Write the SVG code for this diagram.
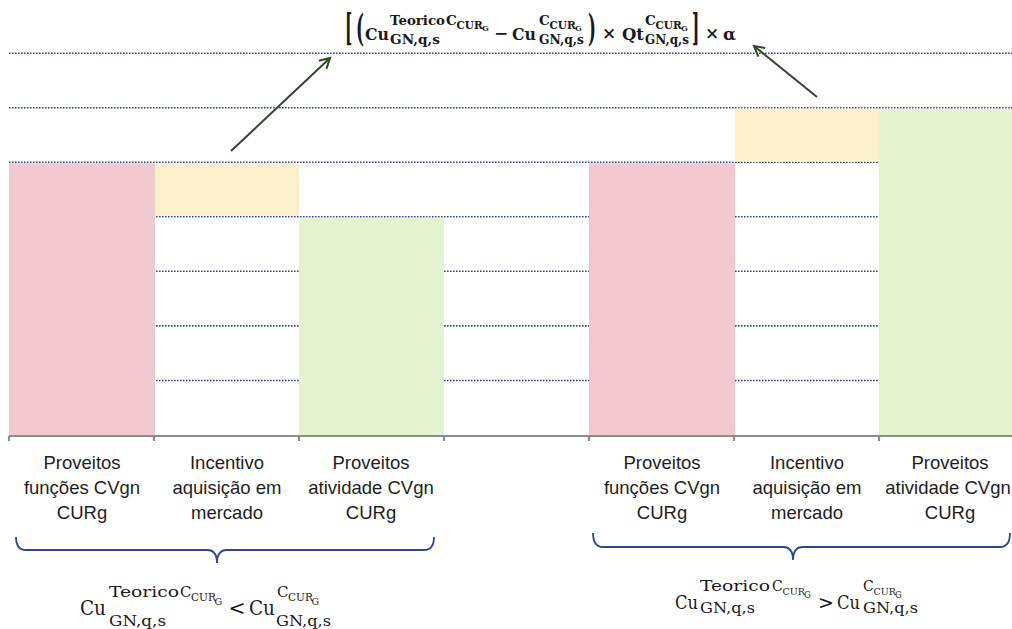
<svg xmlns="http://www.w3.org/2000/svg" width="1012" height="629" viewBox="0 0 1012 629">
<defs>
<style>
.grid{stroke:#2f4694;stroke-width:1.6;stroke-dasharray:1.6 1.4;fill:none}
.pink{fill:#f1c9d1}
.yel{fill:#fcf0cc}
.grn{fill:#e4f3d0}
.axis{stroke:#8c8c8c;stroke-width:2.2;fill:none}
.lbl{font-family:"Liberation Sans","Noto Sans",sans-serif;font-size:18.5px;fill:#1e1e1e;text-anchor:middle}
.fb{font-family:"DejaVu Serif","Liberation Serif",serif;font-weight:bold;fill:#1a1a1a}
.fr{font-family:"DejaVu Serif","Liberation Serif",serif;fill:#1a1a1a}
.arr{stroke:#2b4a27;stroke-width:2;fill:none}
.brace{stroke:#2f4594;stroke-width:1.8;fill:none}
</style>
<marker id="ah" markerWidth="14" markerHeight="14" refX="11" refY="7" orient="auto" markerUnits="userSpaceOnUse">
<polyline points="1,1.5 11,7 1,12.5" fill="none" stroke="#2b4a27" stroke-width="2"/>
</marker>
</defs>
<rect width="1012" height="629" fill="#ffffff"/>

<g id="gridlines">
<line class="grid" x1="9" y1="53.3" x2="1012" y2="53.3"/>
<line class="grid" x1="9" y1="107.8" x2="1012" y2="107.8"/>
<line class="grid" x1="9" y1="162.3" x2="1012" y2="162.3"/>
<line class="grid" x1="9" y1="216.8" x2="1012" y2="216.8"/>
<line class="grid" x1="9" y1="271.3" x2="1012" y2="271.3"/>
<line class="grid" x1="9" y1="325.9" x2="1012" y2="325.9"/>
<line class="grid" x1="9" y1="380.5" x2="1012" y2="380.5"/>
</g>

<g id="bar-left-proveitos-funcoes"><rect class="pink" x="9" y="163.3" width="146" height="272"/></g>
<g id="bar-left-incentivo"><rect class="yel" x="155" y="163.3" width="144" height="52.7"/></g>
<g id="bar-left-proveitos-atividade"><rect class="grn" x="299" y="217.8" width="145" height="217.5"/></g>
<g id="bar-right-proveitos-funcoes"><rect class="pink" x="589" y="163.3" width="146" height="272"/></g>
<g id="bar-right-incentivo"><rect class="yel" x="735" y="108.8" width="144" height="53"/></g>
<g id="bar-right-proveitos-atividade"><rect class="grn" x="879" y="108.8" width="133" height="326.5"/></g>

<g id="axis">
<line class="axis" x1="9" y1="436" x2="1012" y2="436"/>
<path class="axis" d="M9,436V441M154,436V441M299,436V441M444,436V441M589,436V441M734,436V441M879,436V441"/>
</g>

<g id="labels-left">
<text class="lbl" x="82" y="469">Proveitos</text>
<text class="lbl" x="82" y="494">funções CVgn</text>
<text class="lbl" x="82" y="519">CURg</text>
<text class="lbl" x="227" y="469">Incentivo</text>
<text class="lbl" x="227" y="494">aquisição em</text>
<text class="lbl" x="227" y="519">mercado</text>
<text class="lbl" x="371" y="469">Proveitos</text>
<text class="lbl" x="371" y="494">atividade CVgn</text>
<text class="lbl" x="371" y="519">CURg</text>
</g>
<g id="labels-right">
<text class="lbl" x="662" y="469">Proveitos</text>
<text class="lbl" x="662" y="494">funções CVgn</text>
<text class="lbl" x="662" y="519">CURg</text>
<text class="lbl" x="807" y="469">Incentivo</text>
<text class="lbl" x="807" y="494">aquisição em</text>
<text class="lbl" x="807" y="519">mercado</text>
<text class="lbl" x="950" y="469">Proveitos</text>
<text class="lbl" x="948" y="494">atividade CVgn</text>
<text class="lbl" x="950" y="519">CURg</text>
</g>

<g id="connectors">
<line class="arr" x1="231" y1="151" x2="330" y2="58" marker-end="url(#ah)"/>
<line class="arr" x1="817" y1="97" x2="754" y2="46" marker-end="url(#ah)"/>
<path class="brace" d="M16,537 Q16,550 26,550 L207,550 Q217,550 217,563 Q217,550 227,550 L424,550 Q434,550 434,537"/>
<path class="brace" d="M593,533 Q593,547 603,547 L783,547 Q793,547 793,560 Q793,547 803,547 L1000,547 Q1010,547 1010,533"/>
</g>

<g id="formula-top">
<text class="fb" font-size="28" transform="translate(345,41) scale(0.55,1.35)">[</text>
<text class="fb" font-size="28" transform="translate(356,41) scale(0.6,1.35)">(</text>
<text class="fb" x="365" y="40" font-size="17" textLength="24" lengthAdjust="spacingAndGlyphs">Cu</text>
<text class="fb" font-size="13.5"><tspan x="390" y="25" textLength="55" lengthAdjust="spacingAndGlyphs">Teorico</tspan><tspan x="446" y="25">C</tspan><tspan x="456.5" y="28.5" font-size="10.5">CUR</tspan><tspan x="482" y="31" font-size="8">G</tspan></text>
<text class="fb" x="390" y="44" font-size="13.5" textLength="50" lengthAdjust="spacingAndGlyphs">GN,q,s</text>
<text class="fb" x="501" y="39" font-size="17" text-anchor="middle">−</text>
<text class="fb" x="512" y="40" font-size="17" textLength="24" lengthAdjust="spacingAndGlyphs">Cu</text>
<text class="fb" font-size="13.5"><tspan x="539" y="25">C</tspan><tspan x="549.5" y="28.5" font-size="10.5">CUR</tspan><tspan x="575" y="31" font-size="8">G</tspan></text>
<text class="fb" x="539" y="44" font-size="13.5" textLength="45" lengthAdjust="spacingAndGlyphs">GN,q,s</text>
<text class="fb" font-size="28" transform="translate(588,41) scale(0.6,1.35)">)</text>
<text class="fb" x="609" y="39" font-size="17" text-anchor="middle">×</text>
<text class="fb" x="622" y="40" font-size="17" textLength="22" lengthAdjust="spacingAndGlyphs">Qt</text>
<text class="fb" font-size="13.5"><tspan x="645" y="25">C</tspan><tspan x="655.5" y="28.5" font-size="10.5">CUR</tspan><tspan x="681" y="31" font-size="8">G</tspan></text>
<text class="fb" x="645" y="44" font-size="13.5" textLength="44" lengthAdjust="spacingAndGlyphs">GN,q,s</text>
<text class="fb" font-size="28" transform="translate(692,41) scale(0.55,1.35)">]</text>
<text class="fb" x="712" y="39" font-size="17" text-anchor="middle">×</text>
<text class="fb" x="723" y="40" font-size="17">α</text>
</g>

<g id="formula-left">
<text class="fr" x="80" y="615" font-size="20.5" textLength="26" lengthAdjust="spacingAndGlyphs">Cu</text>
<text class="fr" font-size="15"><tspan x="109" y="597" textLength="70" lengthAdjust="spacingAndGlyphs">Teorico</tspan><tspan x="180" y="597">C</tspan><tspan x="191" y="601" font-size="10.5">CUR</tspan><tspan x="214.5" y="604.5" font-size="9.5">G</tspan></text>
<text class="fr" x="109" y="626" font-size="15" textLength="57" lengthAdjust="spacingAndGlyphs">GN,q,s</text>
<text class="fr" x="237" y="615" font-size="20.5" text-anchor="middle">&lt;</text>
<text class="fr" x="249" y="615" font-size="20.5" textLength="26" lengthAdjust="spacingAndGlyphs">Cu</text>
<text class="fr" font-size="15"><tspan x="277" y="597">C</tspan><tspan x="288" y="601" font-size="10.5">CUR</tspan><tspan x="311.5" y="604.5" font-size="9.5">G</tspan></text>
<text class="fr" x="276" y="626" font-size="15" textLength="55" lengthAdjust="spacingAndGlyphs">GN,q,s</text>
</g>

<g id="formula-right">
<text class="fr" x="675" y="609" font-size="19" textLength="23" lengthAdjust="spacingAndGlyphs">Cu</text>
<text class="fr" font-size="14"><tspan x="700" y="591" textLength="70" lengthAdjust="spacingAndGlyphs">Teorico</tspan><tspan x="772" y="591">C</tspan><tspan x="782.5" y="594.5" font-size="9.5">CUR</tspan><tspan x="804" y="597.5" font-size="8.5">G</tspan></text>
<text class="fr" x="700" y="613" font-size="14" textLength="55" lengthAdjust="spacingAndGlyphs">GN,q,s</text>
<text class="fr" x="826" y="609" font-size="19" text-anchor="middle">&gt;</text>
<text class="fr" x="837" y="609" font-size="19" textLength="23" lengthAdjust="spacingAndGlyphs">Cu</text>
<text class="fr" font-size="14"><tspan x="863" y="591">C</tspan><tspan x="873.5" y="594.5" font-size="9.5">CUR</tspan><tspan x="895" y="597.5" font-size="8.5">G</tspan></text>
<text class="fr" x="863" y="613" font-size="14" textLength="55" lengthAdjust="spacingAndGlyphs">GN,q,s</text>
</g>
</svg>
